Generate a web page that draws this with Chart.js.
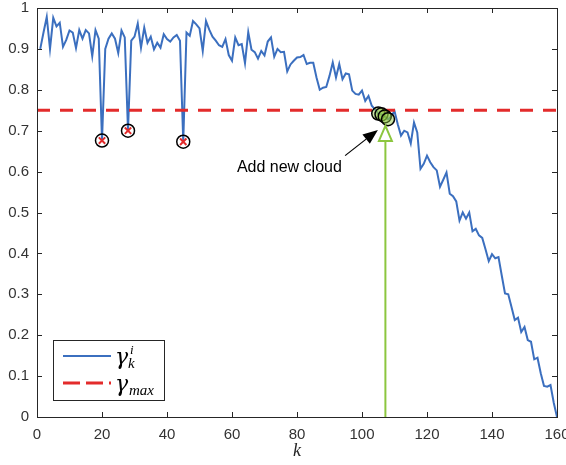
<!DOCTYPE html>
<html>
<head>
<meta charset="utf-8">
<script src="https://cdn.jsdelivr.net/npm/chart.js@4.4.1/dist/chart.umd.min.js"></script>
<style>
  html, body { margin: 0; padding: 0; background: #fff; }
  #wrap { width: 566px; height: 465px; position: relative; }
</style>
</head>
<body>
<div id="wrap"><canvas id="c"></canvas></div>
<script>
const BLUE  = '#3b6fbf';
const RED   = '#e32b2b';
const LIME  = '#8cc63f';
const AXIS  = '#262626';

// gamma_k^i for k = 1..160
const gamma = [
  0.900,0.940,0.978,0.900,0.976,0.955,0.964,0.905,0.922,0.945,
  0.940,0.902,0.946,0.925,0.946,0.938,0.882,0.946,0.925,0.676,
  0.900,0.925,0.938,0.925,0.890,0.945,0.928,0.700,0.920,0.930,
  0.962,0.903,0.952,0.915,0.930,0.899,0.915,0.903,0.936,0.924,
  0.918,0.928,0.934,0.920,0.673,0.940,0.932,0.968,0.960,0.950,
  0.895,0.968,0.947,0.930,0.920,0.909,0.905,0.924,0.885,0.871,
  0.928,0.909,0.912,0.865,0.941,0.898,0.892,0.876,0.895,0.884,
  0.918,0.928,0.881,0.900,0.892,0.893,0.845,0.862,0.871,0.879,
  0.880,0.885,0.863,0.866,0.866,0.830,0.800,0.805,0.807,0.834,
  0.867,0.830,0.863,0.826,0.840,0.838,0.798,0.790,0.788,0.798,
  0.773,0.785,0.761,0.752,0.742,0.740,0.735,0.728,0.735,0.748,
  0.716,0.688,0.700,0.696,0.669,0.720,0.696,0.607,0.619,0.639,
  0.623,0.611,0.603,0.563,0.580,0.598,0.546,0.540,0.527,0.480,
  0.500,0.485,0.500,0.454,0.460,0.444,0.438,0.410,0.381,0.398,
  0.388,0.391,0.346,0.302,0.300,0.269,0.237,0.243,0.208,0.220,
  0.188,0.184,0.141,0.145,0.107,0.076,0.074,0.078,0.035,0.000
];
const kValues   = gamma.map((_, i) => i + 1);
const gammaMax  = 0.75;
const maxSpan   = [0, 160];
const dropK     = [20, 28, 45];          // rejected dips
const cloudK    = [105, 106, 107, 108];  // new cloud points
const xTicks    = [0, 20, 40, 60, 80, 100, 120, 140, 160];
const yTicks    = [0, 0.1, 0.2, 0.3, 0.4, 0.5, 0.6, 0.7, 0.8, 0.9, 1];
const arrowK    = 107.2;                 // green arrow
const arrowTip  = 0.712;
const arrowBase = 0.675;
const noteText  = 'Add new cloud';
const notePos   = [61.5, 0.61];
const noteTail  = [94.8, 0.639];
const noteHead  = [104.9, 0.702];

const at = k => ({ x: k, y: gamma[k - 1] });

const annotations = {
  id: 'annotations',
  afterDatasetsDraw(chart) {
    const { ctx, scales: { x, y } } = chart;
    ctx.save();
    // green arrow
    const ax = x.getPixelForValue(arrowK);
    const yb = y.getPixelForValue(arrowBase), yt = y.getPixelForValue(arrowTip);
    ctx.strokeStyle = LIME; ctx.lineWidth = 2;
    ctx.beginPath(); ctx.moveTo(ax, y.getPixelForValue(0)); ctx.lineTo(ax, yb); ctx.stroke();
    ctx.beginPath(); ctx.moveTo(ax, yt); ctx.lineTo(ax - 6.5, yb); ctx.lineTo(ax + 6.5, yb); ctx.closePath(); ctx.stroke();
    // black arrow + note
    const tx = x.getPixelForValue(noteTail[0]), ty = y.getPixelForValue(noteTail[1]);
    const hx = x.getPixelForValue(noteHead[0]), hy = y.getPixelForValue(noteHead[1]);
    const ang = Math.atan2(hy - ty, hx - tx), L = 15, W = 6;
    const bx = hx - L * Math.cos(ang), by = hy - L * Math.sin(ang);
    ctx.strokeStyle = '#000'; ctx.fillStyle = '#000'; ctx.lineWidth = 1.2;
    ctx.beginPath(); ctx.moveTo(tx, ty); ctx.lineTo(bx, by); ctx.stroke();
    ctx.beginPath(); ctx.moveTo(hx, hy);
    ctx.lineTo(bx + W * Math.sin(ang), by - W * Math.cos(ang));
    ctx.lineTo(bx - W * Math.sin(ang), by + W * Math.cos(ang));
    ctx.closePath(); ctx.fill();
    ctx.font = '16px "Liberation Sans", Arial, sans-serif';
    ctx.textAlign = 'left'; ctx.textBaseline = 'middle';
    ctx.fillText(noteText, x.getPixelForValue(notePos[0]), y.getPixelForValue(notePos[1]));
    ctx.restore();
  },
  afterDraw(chart) {
    const { ctx, chartArea: a, scales: { x, y } } = chart;
    ctx.save();
    // box + inward ticks
    ctx.strokeStyle = AXIS; ctx.lineWidth = 1;
    ctx.strokeRect(a.left + 0.5, a.top + 0.5, a.right - a.left, a.bottom - a.top);
    ctx.beginPath();
    xTicks.forEach(v => {
      const px = Math.round(x.getPixelForValue(v)) + 0.5;
      ctx.moveTo(px, a.bottom); ctx.lineTo(px, a.bottom - 5);
      ctx.moveTo(px, a.top); ctx.lineTo(px, a.top + 5);
    });
    yTicks.forEach(v => {
      const py = Math.round(y.getPixelForValue(v)) + 0.5;
      ctx.moveTo(a.left, py); ctx.lineTo(a.left + 5, py);
      ctx.moveTo(a.right, py); ctx.lineTo(a.right - 5, py);
    });
    ctx.stroke();
    // legend
    const lx = a.left + 16, ly = a.bottom - 77;
    ctx.fillStyle = '#fff';
    ctx.fillRect(lx + 0.5, ly + 0.5, 111, 60);
    ctx.strokeStyle = AXIS;
    ctx.strokeRect(lx + 0.5, ly + 0.5, 111, 60);
    ctx.lineWidth = 2; ctx.strokeStyle = BLUE;
    ctx.beginPath(); ctx.moveTo(lx + 10, ly + 16); ctx.lineTo(lx + 58, ly + 16); ctx.stroke();
    ctx.lineWidth = 3; ctx.strokeStyle = RED; ctx.setLineDash([17, 6]);
    ctx.beginPath(); ctx.moveTo(lx + 10, ly + 43); ctx.lineTo(lx + 58, ly + 43); ctx.stroke();
    ctx.setLineDash([]);
    ctx.fillStyle = '#000'; ctx.textAlign = 'left'; ctx.textBaseline = 'alphabetic';
    ctx.font = 'italic 22px "DejaVu Serif", serif';
    ctx.fillText('\u03B3', lx + 62, ly + 24);
    ctx.fillText('\u03B3', lx + 62, ly + 51);
    ctx.font = 'italic 13px "Liberation Serif", serif';
    ctx.fillText('i', lx + 77, ly + 14);
    ctx.font = 'italic 15px "Liberation Serif", serif';
    ctx.fillText('k', lx + 75, ly + 28);
    ctx.fillText('max', lx + 76, ly + 55);
    ctx.restore();
  }
};

new Chart(document.getElementById('c'), {
  type: 'line',
  data: {
    datasets: [
      { label: 'cross', data: dropK.map(at), showLine: false, pointStyle: 'crossRot',
        pointRadius: 4.5, borderColor: RED, borderWidth: 2, order: 0 },
      { label: 'ring', data: dropK.map(at), showLine: false, pointStyle: 'circle',
        pointRadius: 6.5, borderColor: '#000', backgroundColor: 'rgba(0,0,0,0)', borderWidth: 1.5, order: 1 },
      { label: 'cloud', data: cloudK.map(at), showLine: false, pointStyle: 'circle',
        pointRadius: 6.5, borderColor: '#000', backgroundColor: 'rgba(140,198,63,0.45)', borderWidth: 1.5, order: 2 },
      { label: 'gamma_max', data: maxSpan.map(k => ({ x: k, y: gammaMax })), borderColor: RED,
        borderWidth: 3, borderDash: [13, 10], pointRadius: 0, order: 3 },
      { label: 'gamma', data: kValues.map((k, i) => ({ x: k, y: gamma[i] })), borderColor: BLUE,
        borderWidth: 2, pointRadius: 0, tension: 0, order: 4 }
    ]
  },
  options: {
    responsive: true, maintainAspectRatio: false, animation: false,
    layout: { padding: { top: 7, right: 9, left: 0, bottom: 0 } },
    plugins: { legend: { display: false }, tooltip: { enabled: false } },
    scales: {
      x: {
        type: 'linear', min: 0, max: 160,
        grid: { display: false, drawTicks: false }, border: { display: false },
        afterBuildTicks: s => { s.ticks = xTicks.map(v => ({ value: v })); },
        afterFit: s => { s.height = 48; s.paddingLeft = 0; s.paddingRight = 0; },
        ticks: { color: '#333', padding: 9, maxRotation: 0, font: { family: '"Liberation Sans", Arial, sans-serif', size: 15 } },
        title: { display: true, text: 'k', color: AXIS, padding: { top: 0, bottom: 3 },
          font: { family: '"Liberation Serif", serif', style: 'italic', size: 18 } }
      },
      y: {
        min: 0, max: 1,
        grid: { display: false, drawTicks: false }, border: { display: false },
        afterBuildTicks: s => { s.ticks = yTicks.map(v => ({ value: v })); },
        afterFit: s => { s.width = 37; s.paddingTop = 0; s.paddingBottom = 0; },
        ticks: { color: '#333', padding: 8, callback: v => String(v),
          font: { family: '"Liberation Sans", Arial, sans-serif', size: 15 } }
      }
    }
  },
  plugins: [annotations]
});
</script>
</body>
</html>
